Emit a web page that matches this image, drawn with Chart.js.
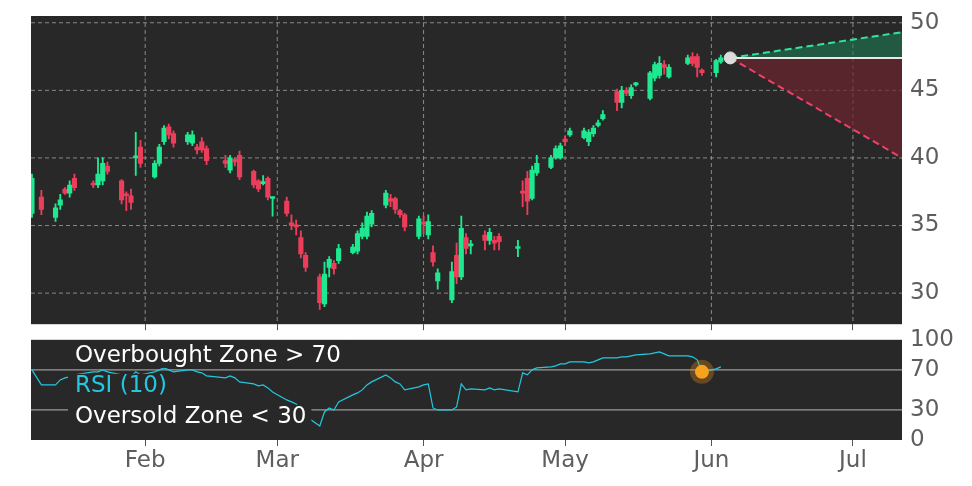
<!DOCTYPE html>
<html><head><meta charset="utf-8">
<script src="https://cdn.jsdelivr.net/npm/chart.js@4.4.0/dist/chart.umd.min.js"></script>
<style>body{margin:0;background:#fff;width:972px;height:486px;overflow:hidden}
#a{position:absolute;left:0;top:0}#b{position:absolute;left:0;top:324px}</style></head>
<body><div id="a" style="width:972px;height:340px"><canvas id="c1"></canvas></div>
<div id="b" style="width:972px;height:162px"><canvas id="c2"></canvas></div>
<script>
const days=[8,10,13,14,15,16,17,21,22,23,24,27,28,29,30,31,34,35,36,37,38,41,42,43,44,45,49,50,51,52,55,56,57,58,59,62,63,64,65,66,69,70,71,72,73,76,77,78,79,80,83,84,85,86,87,90,91,92,93,94,97,98,99,100,101,104,105,106,107,111,112,113,114,115,118,119,120,121,122,125,126,127,128,129,132,133,134,135,136,139,140,141,142,143,147,148,149,150,153,154];
const open=[35.9,37.1,35.6,36.5,37.7,37.4,38.5,38.1,38.0,38.3,39.4,38.3,37.3,37.2,40.0,40.8,38.6,39.6,41.2,42.3,41.8,41.2,41.1,40.8,41.2,40.7,39.8,39.1,39.9,40.2,39.0,38.3,38.1,38.5,37.0,36.8,35.2,35.0,34.1,32.8,31.2,29.2,31.9,32.2,32.4,33.0,33.1,34.2,34.2,35.1,36.5,37.0,37.0,36.1,35.8,34.2,35.2,34.3,33.0,30.9,29.5,32.8,31.2,34.1,33.5,34.3,33.9,33.9,34.2,33.3,37.5,38.5,37.0,38.9,39.3,40.0,40.0,41.4,41.7,41.5,41.2,41.8,42.4,42.9,44.9,44.1,45.0,44.6,45.4,44.4,45.9,46.1,46.9,46.0,47.0,47.5,47.5,46.5,46.3,47.1];
const close=[38.5,36.2,36.3,36.9,37.4,38.0,37.8,38.0,38.8,39.6,39.0,36.9,37.2,36.7,40.1,39.6,39.6,40.8,42.2,41.7,41.1,41.7,41.7,40.6,40.6,39.8,39.6,40.0,39.7,38.6,38.0,37.7,38.2,37.1,37.1,35.9,35.0,34.9,32.9,31.9,29.3,31.4,32.5,31.8,33.3,33.4,34.4,34.8,35.7,35.9,37.4,36.8,36.2,35.8,34.9,35.5,35.1,35.3,32.3,31.5,31.6,31.2,34.8,33.3,33.6,33.9,34.5,33.7,33.8,33.4,37.4,36.8,39.1,39.6,40.0,40.7,40.9,41.2,42.0,42.0,41.9,42.2,42.6,43.2,44.1,45.0,44.8,45.2,45.5,46.3,46.9,47.0,46.7,46.7,47.4,47.0,46.7,46.3,47.2,47.4];
const high=[38.8,37.6,36.6,37.3,37.8,38.3,38.8,38.3,40.0,40.0,39.7,38.4,37.5,37.7,41.9,41.3,39.8,41.0,42.4,42.5,42.0,41.9,42.0,41.0,41.5,40.9,40.2,40.2,40.0,40.5,39.1,38.4,38.7,38.6,37.1,37.1,35.8,35.4,34.6,33.0,31.4,32.3,32.7,32.4,33.6,33.6,34.6,35.2,36.0,36.1,37.6,37.3,37.1,36.2,35.9,35.7,35.7,35.8,33.5,31.8,32.3,33.7,35.7,34.4,33.9,34.6,34.8,34.2,34.4,33.9,38.3,39.0,39.4,40.2,40.2,40.9,41.1,41.6,42.2,42.2,42.1,42.4,42.8,43.5,45.1,45.3,45.2,45.4,45.6,46.4,47.1,47.5,47.2,46.9,47.6,47.8,47.7,46.6,47.3,47.6];
const low=[35.6,35.8,35.3,36.2,37.3,37.1,37.6,37.8,37.8,38.0,38.8,36.6,36.1,36.2,38.7,39.3,38.5,39.4,41.0,41.4,40.8,41.0,40.9,40.3,40.4,39.5,39.3,38.9,39.4,38.4,37.8,37.5,38.0,36.9,35.7,35.7,34.7,34.3,32.6,31.6,28.8,29.0,31.2,31.4,32.2,32.9,32.9,34.0,34.0,34.9,36.3,36.4,35.9,35.6,34.6,34.0,34.4,34.0,32.0,30.3,29.3,30.7,31.0,32.9,32.9,33.2,33.6,33.2,33.2,32.7,36.4,35.8,36.9,38.7,39.2,39.9,39.9,40.9,41.6,41.4,40.9,41.6,42.3,42.8,43.5,43.7,44.6,44.4,45.3,44.3,45.7,45.9,46.2,45.9,46.9,46.8,46.0,46.1,46.0,47.0];
const rsi=[70,55,55,60,62,63,65,68,68,70,68,65,64,63,68,65,68,70,72,70,68,70,70,68,67,64,62,64,62,58,56,54,55,52,48,40,38,36,30,24,14,28,32,30,38,45,47,50,55,58,65,62,58,56,50,53,55,56,32,30,30,33,56,50,51,50,52,50,51,48,67,65,70,72,73,74,76,76,78,78,77,78,80,82,82,83,83,84,85,86,87,88,86,84,84,83,80,68,71,73];
const lastDay=156, lastPrice=47.4, endDay=192.4, upperTarget=49.3, lowerTarget=40.0;
const monthDays=[32,60,91,121,152,182];
const monthNames=['Feb','Mar','Apr','May','Jun','Jul'];
const rsiTicks=[0,30,70,100];
const GREEN='#1ee890',RED='#ec3d5a',BG='#282828',TICK='#5e5e5e';
const FONT={family:'DejaVu Sans',size:23};
const bgPlugin={id:'bg',beforeDraw(c){const a=c.chartArea,x=c.ctx;x.save();x.fillStyle=BG;x.fillRect(a.left,a.top,a.right-a.left,a.bottom-a.top);x.restore();}};
const col=(i)=>close[i]>=open[i]?GREEN:RED;
const xScale=(showLabels,h)=>({type:'linear',min:7.8,max:endDay,offset:false,afterBuildTicks(s){s.ticks=monthDays.map(v=>({value:v}));},
 afterFit(s){s.height=h;},grid:{display:true,offset:false,drawOnChartArea:false,drawTicks:true,tickLength:6,color:'#555'},border:{display:false},
 ticks:{display:showLabels,color:TICK,font:FONT,maxRotation:0,padding:1,autoSkip:false,callback:(v)=>monthNames[monthDays.indexOf(v)]||''}});
const hGrid={id:'hg',beforeDatasetsDraw(c){const a=c.chartArea,x=c.ctx,xs=c.scales.x,ys=c.scales.y;x.save();x.strokeStyle='rgba(170,170,170,0.75)';x.lineWidth=1;x.setLineDash([4,3]);
 monthDays.forEach(d=>{const p=xs.getPixelForValue(d);if(p>a.left&&p<a.right){x.beginPath();x.moveTo(p,a.top);x.lineTo(p,a.bottom);x.stroke();}});
 [30,35,40,45,50].forEach(v=>{const p=ys.getPixelForValue(v);x.beginPath();x.moveTo(a.left,p);x.lineTo(a.right,p);x.stroke();});x.restore();}};
new Chart(document.getElementById('c1'),{
 data:{datasets:[
  {type:'bar',data:days.map((d,i)=>({x:d,y:[low[i],high[i]]})),backgroundColor:days.map((d,i)=>col(i)),barThickness:1.2,grouped:false,order:3},
  {type:'bar',data:days.map((d,i)=>({x:d,y:[open[i],close[i]]})),backgroundColor:days.map((d,i)=>col(i)),barThickness:4.5,grouped:false,order:2,minBarLength:2},
  {type:'line',data:[{x:lastDay,y:lastPrice},{x:endDay,y:lastPrice}],borderColor:'#e8e8e8',borderWidth:2,pointRadius:0,order:1},
  {type:'line',data:[{x:lastDay,y:lastPrice},{x:endDay,y:upperTarget}],borderColor:'#2ee59d',borderDash:[7,4],borderWidth:2,pointRadius:0,fill:{target:2},backgroundColor:'rgba(30,130,90,0.55)',order:1},
  {type:'line',data:[{x:lastDay,y:lastPrice},{x:endDay,y:lowerTarget}],borderColor:'#f0406a',borderDash:[7,4],borderWidth:2,pointRadius:0,fill:{target:2},backgroundColor:'rgba(110,35,45,0.7)',order:1},
  {type:'scatter',data:[{x:lastDay,y:lastPrice}],pointRadius:6,backgroundColor:'#dcdcdc',borderColor:'#dcdcdc',order:0}
 ]},
 options:{animation:false,responsive:true,maintainAspectRatio:false,plugins:{legend:{display:false},tooltip:{enabled:false}},
  layout:{padding:{left:31,top:16,right:0,bottom:0}},
  scales:{x:xScale(false,7),y:{position:'right',min:27.7,max:50.5,afterFit(s){s.width=70;},grid:{display:false,drawTicks:true,tickLength:6,color:'#555'},border:{display:false},
   afterBuildTicks(s){s.ticks=[30,35,40,45,50].map(v=>({value:v}));},ticks:{color:TICK,font:FONT,padding:2}}}},
 plugins:[bgPlugin,hGrid]});
const rsiText={id:'rt',afterDatasetsDraw(c){const x=c.ctx,a=c.chartArea;x.save();x.font='23px DejaVu Sans';x.textBaseline='middle';
 const items=[['Overbought Zone > 70','#fff',a.top+16],['RSI (10)','#22c8e0',a.top+46],['Oversold Zone < 30','#fff',a.top+77]];
 items.forEach(([t,cl,y])=>{const w=x.measureText(t).width;x.fillStyle=BG;x.fillRect(68,y-12,w+12,24);x.fillStyle=cl;x.fillText(t,75,y);});x.restore();}};
const zoneLines={id:'zl',beforeDatasetsDraw(c){const x=c.ctx,a=c.chartArea,ys=c.scales.y;x.save();x.strokeStyle='#9a9a9a';x.lineWidth=1.2;
 [30,70].forEach(v=>{const p=ys.getPixelForValue(v);x.beginPath();x.moveTo(a.left,p);x.lineTo(a.right,p);x.stroke();});x.restore();}};
const oi=days.indexOf(150);
new Chart(document.getElementById('c2'),{
 data:{datasets:[
  {type:'scatter',data:[{x:days[oi],y:rsi[oi]}],pointRadius:12,backgroundColor:'rgba(245,150,30,0.3)',borderWidth:0,order:1},
  {type:'scatter',data:[{x:days[oi],y:rsi[oi]}],pointRadius:7,backgroundColor:'#f7a21b',borderWidth:0,order:0},
  {type:'line',data:days.map((d,i)=>({x:d,y:rsi[i]})),borderColor:'#22c8e0',borderWidth:1.2,pointRadius:0,tension:0,order:2}
 ]},
 options:{animation:false,responsive:true,maintainAspectRatio:false,plugins:{legend:{display:false},tooltip:{enabled:false}},
  layout:{padding:{left:31,top:10,right:0,bottom:0}},
  scales:{x:xScale(true,46),y:{position:'right',min:0,max:100,afterFit(s){s.width=70;},grid:{display:false,drawTicks:true,tickLength:6,color:'#555'},border:{display:false},
   afterBuildTicks(s){s.ticks=rsiTicks.map(v=>({value:v}));},ticks:{color:TICK,font:FONT,padding:2}}}},
 plugins:[bgPlugin,zoneLines,rsiText]});
</script></body></html>
